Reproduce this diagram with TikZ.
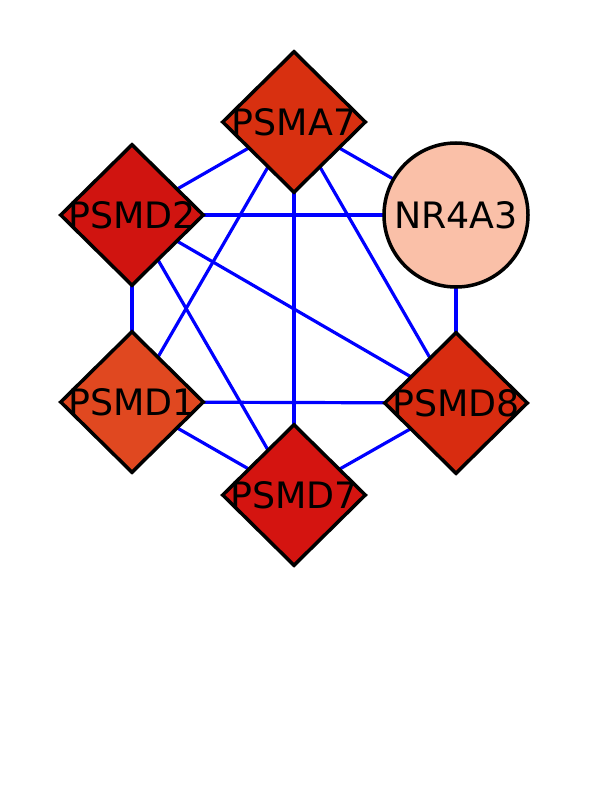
\documentclass[tikz,border=0pt]{standalone}
\usepackage{fontspec}
\setmainfont{DejaVu Sans}
\usepackage{tikz}
\usetikzlibrary{shapes.geometric, positioning, backgrounds}
\definecolor{ppiedge}{HTML}{0000FF}
\definecolor{ppirim}{HTML}{000000}
\definecolor{exprA}{HTML}{D83010}
\definecolor{exprB}{HTML}{D01410}
\definecolor{exprC}{HTML}{E04820}
\definecolor{exprD}{HTML}{D82C10}
\definecolor{exprE}{HTML}{D41410}
\definecolor{exprlow}{HTML}{FAC0A8}

\begin{document}
\begin{tikzpicture}[x=1bp, y=1bp, font=\fontsize{36.5}{40}\selectfont,
    gene/.style={diamond, draw=ppirim, line width=3.5bp, inner sep=0pt,
        minimum width=144bp, minimum height=142bp},
    query/.style={circle, draw=ppirim, line width=3.5bp, inner sep=0pt,
        minimum size=144bp},
    link/.style={draw=ppiedge, line width=3.2bp}]
\useasboundingbox (0,0) rectangle (612,-792);
\foreach \lbl/\px/\py/\col in {%
    PSMA7/294/122/exprA,
    PSMD2/132/215/exprB,
    PSMD1/132/402/exprC,
    PSMD8/456/403/exprD,
    PSMD7/294/495/exprE}
{
    \node[gene, fill=\col] (\lbl) at (\px, -\py) {\makebox[0pt]{\lbl}};
}
\node[query, fill=exprlow] (NR4A3) at (456, -215) {\makebox[0pt]{NR4A3}};
\begin{scope}[on background layer]
\foreach \a/\b in {%
    PSMA7/PSMD2, PSMA7/NR4A3, PSMA7/PSMD1, PSMA7/PSMD7, PSMA7/PSMD8,
    PSMD2/NR4A3, PSMD2/PSMD1, PSMD2/PSMD8, PSMD2/PSMD7,
    NR4A3/PSMD8, PSMD1/PSMD8, PSMD1/PSMD7, PSMD7/PSMD8}
{
    \draw[link] (\a.center) -- (\b.center);
}
\end{scope}
\end{tikzpicture}
\end{document}
